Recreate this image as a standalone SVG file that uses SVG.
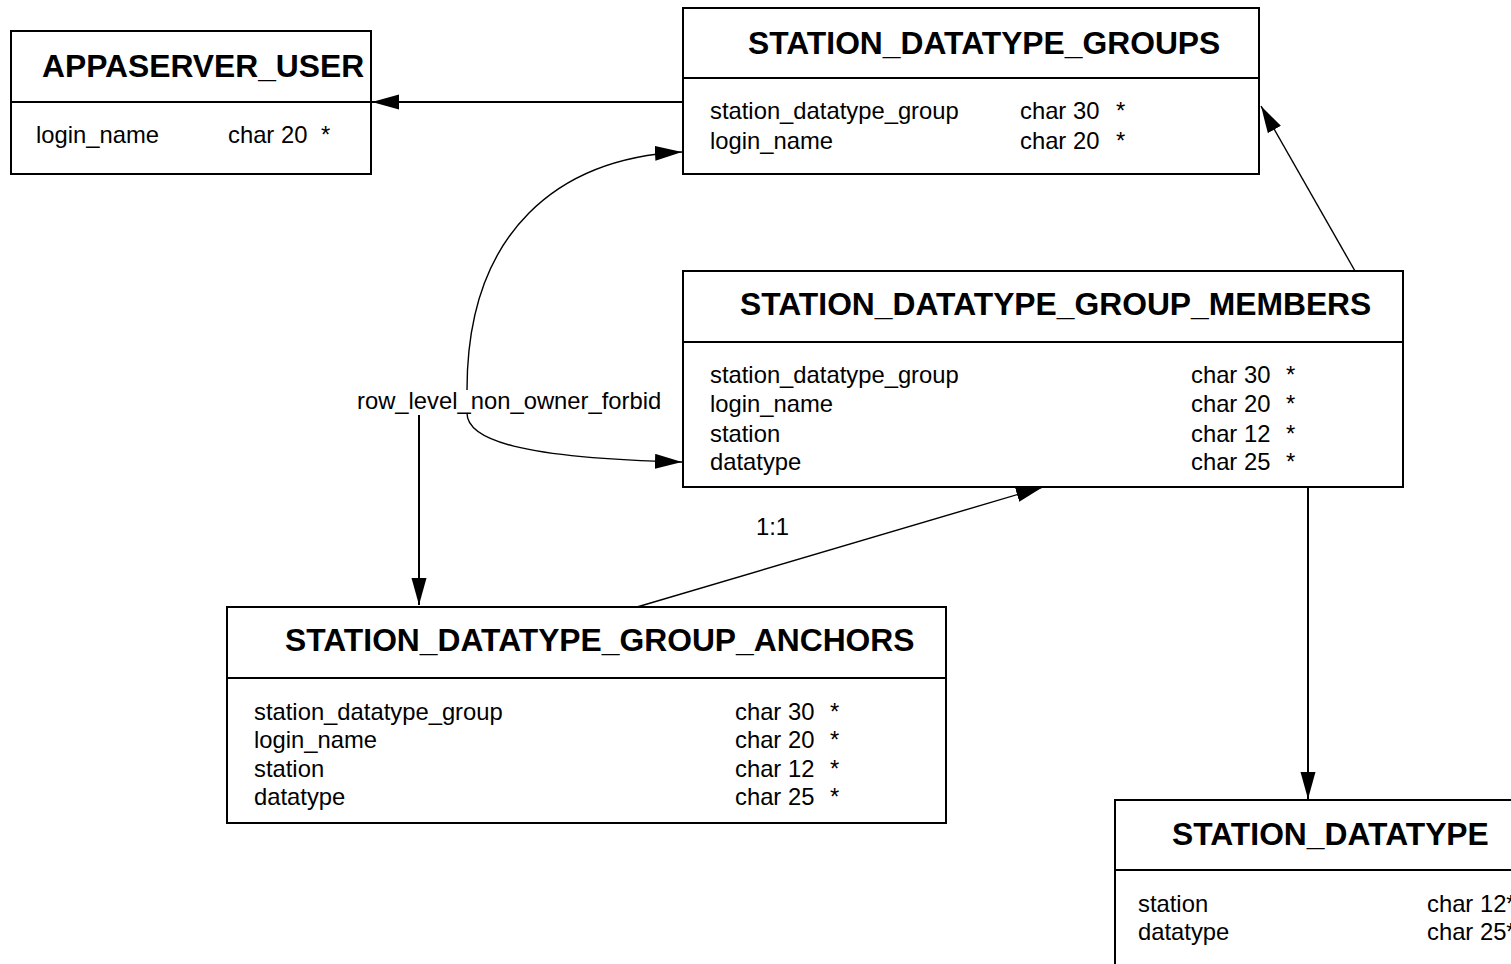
<svg xmlns="http://www.w3.org/2000/svg" width="1511" height="964" viewBox="0 0 1511 964">
<style>
.box{fill:#fff;stroke:#000;stroke-width:2}
.div{stroke:#000;stroke-width:2}
.title{font-family:"Liberation Sans",Arial,sans-serif;font-weight:bold;font-size:31.8px;fill:#000}
.f{font-family:"Liberation Sans",Arial,sans-serif;font-size:23.8px;fill:#000}
.ln{fill:none;stroke:#000;stroke-width:2}
.thin{fill:none;stroke:#000;stroke-width:1.4}
</style>
<defs>
<marker id="ah" markerUnits="userSpaceOnUse" markerWidth="28" markerHeight="16" refX="27" refY="7.5" orient="auto">
<path d="M0,0 L27,7.5 L0,15 z" fill="#000"/>
</marker>
</defs>
<rect width="1511" height="964" fill="#fff"/>

<g id="connectors">
<line class="ln" x1="683" y1="102" x2="372" y2="102" marker-end="url(#ah)"/>
<line class="thin" x1="1355" y1="271" x2="1261" y2="106" marker-end="url(#ah)"/>
<path class="thin" d="M467,390 C467,230 560,158 682,152" marker-end="url(#ah)"/>
<path class="thin" d="M467,413 C467,440 520,458 682,462" marker-end="url(#ah)"/>
<line class="ln" x1="419" y1="415" x2="419" y2="605" marker-end="url(#ah)"/>
<line class="thin" x1="637" y1="607" x2="1043" y2="487" marker-end="url(#ah)"/>
<line class="ln" x1="1308" y1="487" x2="1308" y2="799" marker-end="url(#ah)"/>
<text class="f" x="357" y="409">row_level_non_owner_forbid</text>
<text class="f" x="756" y="535">1:1</text>
</g>

<g id="appaserver_user">
<rect class="box" x="11" y="31" width="360" height="143"/>
<line class="div" x1="11" y1="102" x2="371" y2="102"/>
<text class="title" x="42" y="77">APPASERVER_USER</text>
<text class="f" x="36" y="143">login_name</text>
<text class="f" x="228" y="143">char 20</text>
<text class="f" x="321" y="143">*</text>
</g>

<g id="station_datatype_groups">
<rect class="box" x="683" y="8" width="576" height="166"/>
<line class="div" x1="683" y1="78" x2="1259" y2="78"/>
<text class="title" x="748" y="54">STATION_DATATYPE_GROUPS</text>
<text class="f" x="710" y="119">station_datatype_group</text>
<text class="f" x="1020" y="119">char 30</text>
<text class="f" x="1116" y="119">*</text>
<text class="f" x="710" y="149">login_name</text>
<text class="f" x="1020" y="149">char 20</text>
<text class="f" x="1116" y="149">*</text>
</g>

<g id="station_datatype_group_members">
<rect class="box" x="683" y="271" width="720" height="216"/>
<line class="div" x1="683" y1="342" x2="1403" y2="342"/>
<text class="title" x="740" y="315">STATION_DATATYPE_GROUP_MEMBERS</text>
<text class="f" x="710" y="383">station_datatype_group</text>
<text class="f" x="1191" y="383">char 30</text>
<text class="f" x="1286" y="383">*</text>
<text class="f" x="710" y="412">login_name</text>
<text class="f" x="1191" y="412">char 20</text>
<text class="f" x="1286" y="412">*</text>
<text class="f" x="710" y="442">station</text>
<text class="f" x="1191" y="442">char 12</text>
<text class="f" x="1286" y="442">*</text>
<text class="f" x="710" y="470">datatype</text>
<text class="f" x="1191" y="470">char 25</text>
<text class="f" x="1286" y="470">*</text>
</g>

<g id="station_datatype_group_anchors">
<rect class="box" x="227" y="607" width="719" height="216"/>
<line class="div" x1="227" y1="678" x2="946" y2="678"/>
<text class="title" x="285" y="651">STATION_DATATYPE_GROUP_ANCHORS</text>
<text class="f" x="254" y="720">station_datatype_group</text>
<text class="f" x="735" y="720">char 30</text>
<text class="f" x="830" y="720">*</text>
<text class="f" x="254" y="748">login_name</text>
<text class="f" x="735" y="748">char 20</text>
<text class="f" x="830" y="748">*</text>
<text class="f" x="254" y="777">station</text>
<text class="f" x="735" y="777">char 12</text>
<text class="f" x="830" y="777">*</text>
<text class="f" x="254" y="805">datatype</text>
<text class="f" x="735" y="805">char 25</text>
<text class="f" x="830" y="805">*</text>
</g>

<g id="station_datatype">
<rect class="box" x="1115" y="800" width="430" height="200"/>
<line class="div" x1="1115" y1="870" x2="1545" y2="870"/>
<text class="title" x="1172" y="845">STATION_DATATYPE</text>
<text class="f" x="1138" y="912">station</text>
<text class="f" x="1427" y="912">char 12*</text>
<text class="f" x="1138" y="940">datatype</text>
<text class="f" x="1427" y="940">char 25*</text>
</g>
</svg>
